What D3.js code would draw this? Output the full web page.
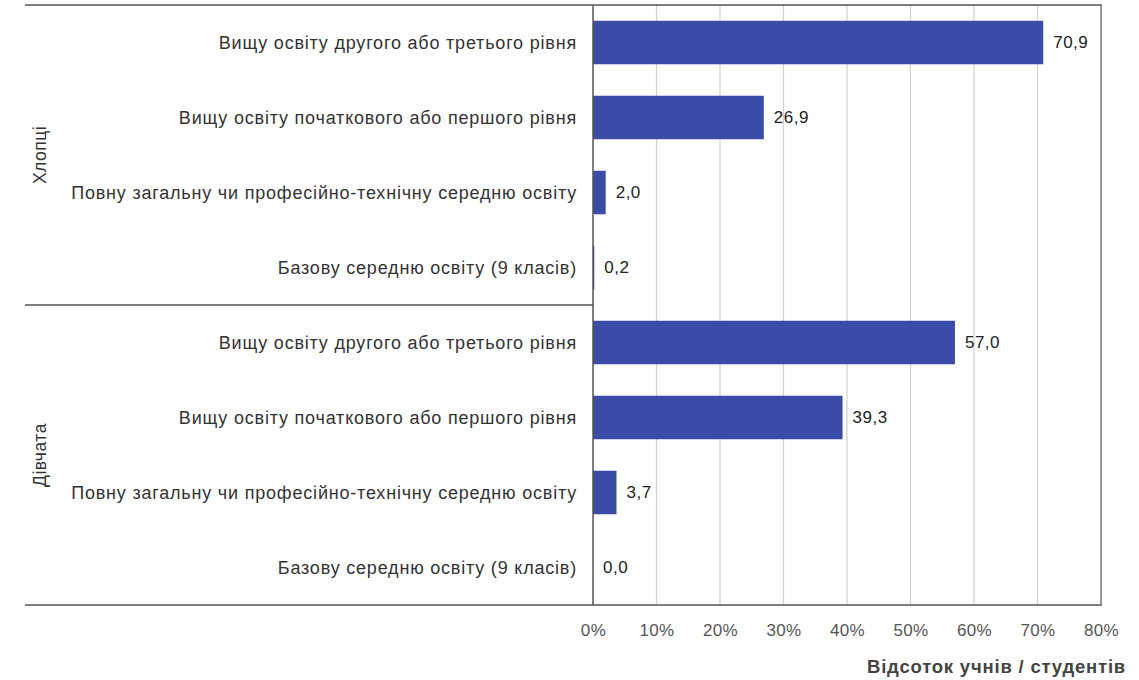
<!DOCTYPE html>
<html><head><meta charset="utf-8">
<script src="https://cdn.jsdelivr.net/npm/d3@7"></script>
<style>body{margin:0;background:#fff}svg{display:block}text{font-family:"Liberation Sans",Arial,sans-serif}</style>
</head><body>
<svg id="c" width="1139" height="680"></svg>
<script>
const groups = ["Хлопці", "Дівчата"];
const categories = [
  "Вищу освіту другого або третього рівня",
  "Вищу освіту початкового або першого рівня",
  "Повну загальну чи професійно-технічну середню освіту",
  "Базову середню освіту (9 класів)"
];
const boysValues = [70.9, 26.9, 2.0, 0.2];
const girlsValues = [57.0, 39.3, 3.7, 0.0];
const xTicks = [0, 10, 20, 30, 40, 50, 60, 70, 80];
const axisTitle = "Відсоток учнів / студентів";

const rows = [];
groups.forEach((g, gi) => {
  const vals = gi === 0 ? boysValues : girlsValues;
  categories.forEach((c, ci) => rows.push({key: g + "|" + c, group: g, cat: c, v: vals[ci]}));
});

const svg = d3.select("#c");
const pLeft = 593, pRight = 1101, pTop = 5, pBottom = 605, outerLeft = 25;
const x = d3.scaleLinear().domain([0, 80]).range([pLeft, pRight]);
const y = d3.scaleBand().domain(rows.map(d => d.key)).range([pTop, pBottom]).paddingInner(0.42).paddingOuter(0.21);

// gridlines
svg.append("g").selectAll("line").data(xTicks.slice(1, -1)).join("line")
  .attr("x1", d => x(d)).attr("x2", d => x(d)).attr("y1", pTop).attr("y2", pBottom)
  .attr("stroke", "#d0d0d0").attr("stroke-width", 1.2);

// bars
svg.append("g").selectAll("rect").data(rows).join("rect")
  .attr("x", x(0)).attr("y", d => y(d.key))
  .attr("width", d => x(d.v) - x(0)).attr("height", y.bandwidth())
  .attr("fill", "#3a4ca5");

// value labels
svg.append("g").selectAll("text").data(rows).join("text")
  .attr("x", d => x(d.v) + 10).attr("y", d => y(d.key) + y.bandwidth() / 2)
  .attr("dy", "0.35em").attr("font-size", 17).attr("letter-spacing", 0.5).attr("fill", "#222")
  .text(d => d3.format(".1f")(d.v).replace(".", ","));

// category labels
svg.append("g").selectAll("text").data(rows).join("text")
  .attr("x", pLeft - 16).attr("y", d => y(d.key) + y.bandwidth() / 2)
  .attr("dy", "0.35em").attr("text-anchor", "end").attr("font-size", 18).attr("letter-spacing", 0.8).attr("fill", "#333")
  .text(d => d.cat);

// group labels
const groupBand = d3.scaleBand().domain(groups).range([pTop, pBottom]);
svg.append("g").selectAll("text").data(groups).join("text")
  .attr("transform", g => `translate(46,${groupBand(g) + groupBand.bandwidth() / 2}) rotate(-90)`)
  .attr("text-anchor", "middle").attr("font-size", 17.5).attr("letter-spacing", 0.5).attr("fill", "#333")
  .text(g => g);

// frame lines
const lc = "#555";
svg.append("line").attr("x1", outerLeft).attr("x2", pRight + 1).attr("y1", pTop).attr("y2", pTop).attr("stroke", lc).attr("stroke-width", 1.5);
svg.append("line").attr("x1", outerLeft).attr("x2", pRight + 1).attr("y1", pBottom).attr("y2", pBottom).attr("stroke", lc).attr("stroke-width", 1.5);
svg.append("line").attr("x1", outerLeft).attr("x2", pLeft).attr("y1", groupBand(groups[1])).attr("y2", groupBand(groups[1])).attr("stroke", lc).attr("stroke-width", 1.5);
svg.append("line").attr("x1", pLeft).attr("x2", pLeft).attr("y1", pTop).attr("y2", pBottom).attr("stroke", lc).attr("stroke-width", 1.5);
svg.append("line").attr("x1", pRight).attr("x2", pRight).attr("y1", pTop).attr("y2", pBottom).attr("stroke", "#777").attr("stroke-width", 1.5);

// x axis
const ax = svg.append("g").attr("transform", `translate(0,${pBottom})`)
  .call(d3.axisBottom(x).tickValues(xTicks).tickSize(0).tickPadding(19).tickFormat(d => d + "%"));
ax.select(".domain").remove();
ax.selectAll("text").attr("font-size", 17).attr("letter-spacing", 0.4).attr("fill", "#555").attr("font-family", '"Liberation Sans",Arial,sans-serif');

svg.append("text").attr("x", 1126).attr("y", 673).attr("text-anchor", "end")
  .attr("font-size", 18.5).attr("letter-spacing", 0.8).attr("font-weight", "bold").attr("fill", "#444").text(axisTitle);
</script>
</body></html>
